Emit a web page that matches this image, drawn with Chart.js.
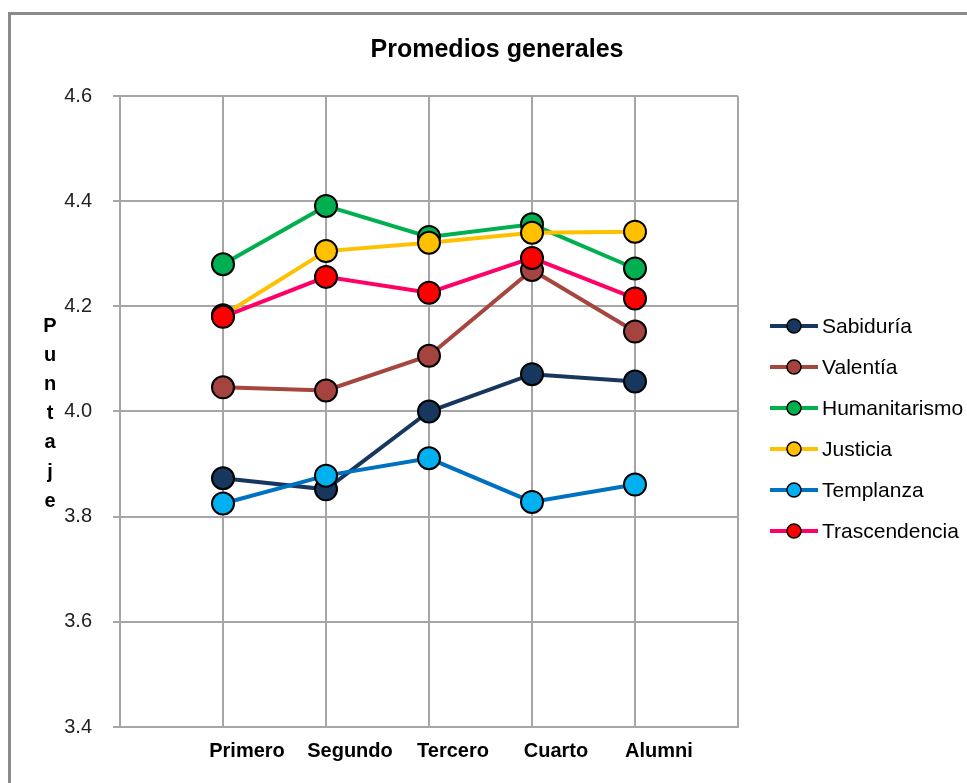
<!DOCTYPE html>
<html>
<head>
<meta charset="utf-8">
<title>Promedios generales</title>
<script src="https://cdn.jsdelivr.net/npm/chart.js@4/dist/chart.umd.min.js"></script>
<style>
  html, body { margin: 0; padding: 0; background: #fff; }
  #wrap { width: 967px; height: 783px; }
</style>
</head>
<body>
<div id="wrap"><canvas id="promChart" width="967" height="783"></canvas></div>
<script>
// grupos del eje x
const categories = ['Primero', 'Segundo', 'Tercero', 'Cuarto', 'Alumni'];

// promedios por virtud
const sabiduria     = [3.873, 3.852, 4.000, 4.071, 4.057];
const valentia      = [4.046, 4.040, 4.106, 4.269, 4.152];
const humanitarismo = [4.280, 4.391, 4.332, 4.356, 4.272];
const justicia      = [4.183, 4.305, 4.321, 4.340, 4.342];
const templanza     = [3.825, 3.878, 3.911, 3.828, 3.861];
const trascendencia = [4.180, 4.256, 4.226, 4.292, 4.215];

const seriesNames = ['Sabiduría', 'Valentía', 'Humanitarismo', 'Justicia', 'Templanza', 'Trascendencia'];
const seriesValues = [sabiduria, valentia, humanitarismo, justicia, templanza, trascendencia];

// eje y
const yTicks = [3.4, 3.6, 3.8, 4.0, 4.2, 4.4, 4.6];
const yAxisTitle = 'Puntaje';

const lineColors   = ['#17375E', '#A5463F', '#00B050', '#FFC000', '#0070C0', '#FF0066'];
const markerColors = ['#17375E', '#A5443F', '#00B050', '#FFC000', '#00B0F0', '#FF0000'];

const FONT = "'Liberation Sans', Arial, sans-serif";

const datasets = seriesNames.map((name, i) => ({
  label: name,
  data: seriesValues[i].map((v, j) => ({ x: j + 1, y: v })),
  borderColor: lineColors[i],
  borderWidth: 4,
  backgroundColor: markerColors[i],
  pointBackgroundColor: markerColors[i],
  pointBorderColor: '#000',
  pointBorderWidth: 2,
  pointRadius: 11,
  pointHoverRadius: 11,
  tension: 0,
  fill: false,
  // las series posteriores quedan encima
  order: seriesNames.length - i
}));

// marco, titulo, rotulo vertical y leyenda
const decor = {
  id: 'decor',
  beforeDraw(chart) {
    const ctx = chart.ctx;
    ctx.save();
    ctx.strokeStyle = '#8a8a8a';
    ctx.lineWidth = 3;
    ctx.beginPath();
    ctx.moveTo(9.5, 783);
    ctx.lineTo(9.5, 13.5);
    ctx.lineTo(967, 13.5);
    ctx.stroke();
    ctx.restore();
  },
  afterDraw(chart) {
    const ctx = chart.ctx;
    ctx.save();

    ctx.fillStyle = '#000';
    ctx.textAlign = 'center';
    ctx.textBaseline = 'middle';
    ctx.font = 'bold 25px ' + FONT;
    ctx.fillText('Promedios generales', 497, 50);

    ctx.font = 'bold 20px ' + FONT;
    yAxisTitle.split('').forEach((ch, k) => {
      ctx.fillText(ch, 50, 326 + k * 29.2);
    });

    ctx.textAlign = 'left';
    ctx.font = '21px ' + FONT;
    chart.data.datasets.forEach((ds, i) => {
      const y = 326 + i * 41;
      ctx.strokeStyle = ds.borderColor;
      ctx.lineWidth = 4;
      ctx.beginPath();
      ctx.moveTo(770, y);
      ctx.lineTo(818, y);
      ctx.stroke();
      ctx.fillStyle = ds.pointBackgroundColor;
      ctx.strokeStyle = '#000';
      ctx.lineWidth = 1.5;
      ctx.beginPath();
      ctx.arc(794, y, 7, 0, Math.PI * 2);
      ctx.fill();
      ctx.stroke();
      ctx.fillStyle = '#000';
      ctx.fillText(ds.label, 822, y + 1);
    });

    ctx.restore();
  }
};

new Chart(document.getElementById('promChart'), {
  type: 'line',
  data: { datasets },
  plugins: [decor],
  options: {
    responsive: false,
    animation: false,
    layout: { padding: { top: 96, right: 229, left: 0, bottom: 0 } },
    plugins: {
      legend: { display: false },
      title: { display: false },
      tooltip: { enabled: false }
    },
    scales: {
      x: {
        type: 'linear',
        min: 0,
        max: categories.length + 1,
        afterFit: (s) => { s.height = 56; },
        ticks: {
          stepSize: 1,
          autoSkip: false,
          maxRotation: 0,
          padding: 12,
          labelOffset: 24,
          color: '#000',
          font: { family: FONT, size: 20, weight: 'bold' },
          callback: (v) => categories[v - 1] || ''
        },
        grid: { color: '#a6a6a6', lineWidth: 2, drawTicks: false },
        border: { display: true, color: '#a6a6a6', width: 2 }
      },
      y: {
        min: yTicks[0],
        max: yTicks[yTicks.length - 1],
        afterFit: (s) => { s.width = 120; },
        afterBuildTicks: (s) => { s.ticks = yTicks.map(v => ({ value: v })); },
        ticks: {
          padding: 21,
          color: '#222',
          font: { family: FONT, size: 20 },
          callback: (v) => Number(v).toFixed(1)
        },
        grid: { color: '#a6a6a6', lineWidth: 2, tickLength: 7 },
        border: { display: true, color: '#a6a6a6', width: 2 }
      }
    }
  }
});
</script>
</body>
</html>
